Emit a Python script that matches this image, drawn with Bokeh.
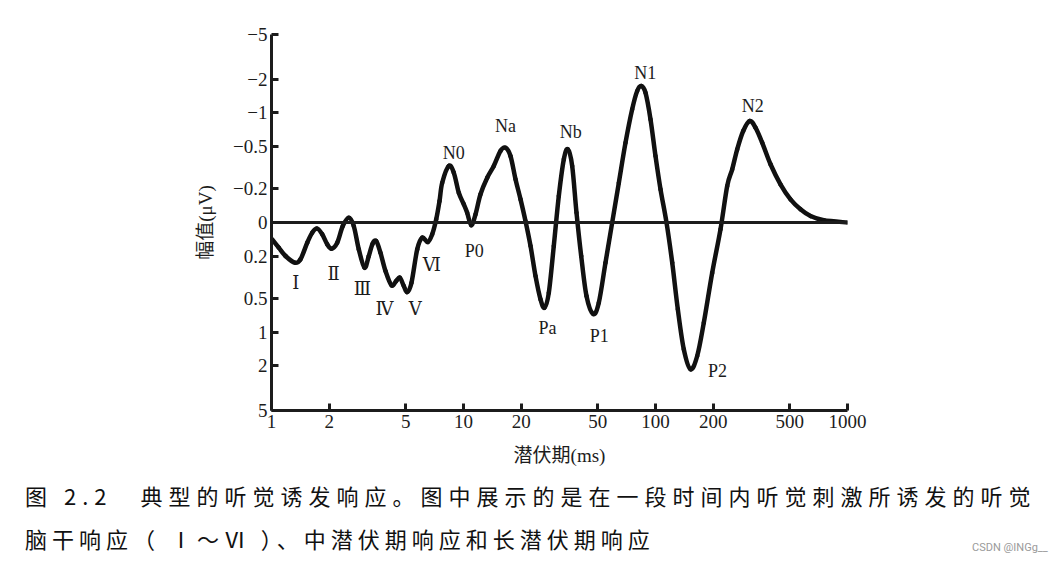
import numpy as np
from bokeh.plotting import figure
from bokeh.models import Range1d, FixedTicker, Span, ColumnDataSource, Div
from bokeh.layouts import column
from bokeh.core.properties import value
from bokeh.embed import file_html
from bokeh.resources import INLINE

# ---- data ----
latency_ms = [1.008, 1.091, 1.183, 1.322, 1.416, 1.535, 1.629, 1.730, 1.837, 1.950,
              2.054, 2.199, 2.351, 2.527, 2.683, 2.849, 3.051, 3.212, 3.357, 3.510,
              3.696, 3.924, 4.217, 4.462, 4.659, 4.888, 5.092, 5.360, 5.740, 6.095,
              6.518, 6.871, 7.209, 7.499, 7.746, 8.384, 8.903, 9.452, 10.04, 10.45,
              10.97, 11.55, 12.26, 13.29, 14.38, 15.58, 16.55, 17.57, 18.66, 19.82,
              21.03, 22.34, 23.71, 25.18, 26.42, 27.82, 29.53, 31.36, 33.31, 34.93,
              36.82, 38.77, 41.02, 43.71, 47.37, 50.66, 54.90, 59.49, 64.42, 69.80,
              75.60, 80.28, 84.23, 88.69, 94.19, 100.0, 106.2, 114.1, 122.2, 130.7,
              140.4, 152.2, 164.9, 178.5, 197.4, 218.0, 236.3, 250.9, 266.4, 286.3,
              309.8, 331.8, 359.4, 397.2, 447.7, 504.9, 569.1, 641.7, 752.6, 1000.0]

amplitude_uv = [0.099, 0.148, 0.197, 0.244, 0.220, 0.119, 0.060, 0.036, 0.069, 0.128,
                0.154, 0.119, 0.021, -0.028, 0.021, 0.158, 0.280, 0.197, 0.126, 0.109,
                0.179, 0.304, 0.406, 0.375, 0.351, 0.411, 0.454, 0.387, 0.158, 0.089,
                0.115, 0.069, -0.019, -0.126, -0.241, -0.361, -0.313, -0.175, -0.107, -0.058,
                0.016, -0.048, -0.166, -0.277, -0.361, -0.468, -0.491, -0.432, -0.266, -0.136,
                -0.009, 0.138, 0.339, 0.512, 0.635, 0.459, 0.138, -0.156, -0.409, -0.480,
                -0.361, -0.058, 0.197, 0.482, 0.728, 0.562, 0.244, 0.0, -0.241, -0.556,
                -1.097, -1.652, -1.803, -1.600, -0.900, -0.432, -0.195, 0.0, 0.244, 0.659,
                1.509, 2.253, 1.712, 0.856, 0.316, 0.040, -0.218, -0.337, -0.480, -0.728,
                -0.875, -0.776, -0.556, -0.373, -0.230, -0.136, -0.078, -0.038, -0.013, 0.0]

x_tick_values = [1, 2, 5, 10, 20, 50, 100, 200, 500, 1000]
x_tick_labels = ["1", "2", "5", "10", "20", "50", "100", "200", "500", "1000"]
y_tick_values = [-5, -2, -1, -0.5, -0.2, 0, 0.2, 0.5, 1, 2, 5]
y_tick_labels = ["\u22125", "\u22122", "\u22121", "\u22120.5", "\u22120.2", "0",
                 "0.2", "0.5", "1", "2", "5"]

peak_names = ["Ⅰ", "Ⅱ", "Ⅲ", "Ⅳ", "Ⅴ", "Ⅵ", "N0", "P0", "Na", "Pa", "Nb", "P1", "N1", "P2", "N2"]
peak_index = [3, 10, 16, 22, 26, 30, 35, 40, 46, 54, 59, 64, 72, 81, 90]

x_title = "潜伏期(ms)"
y_title = "幅值(μV)"
caption_line1 = "图 2.2\u3000典型的听觉诱发响应。图中展示的是在一段时间内听觉刺激所诱发的听觉"
caption_line2 = "脑干响应（ Ⅰ～Ⅵ ）、中潜伏期响应和长潜伏期响应"
watermark = "CSDN @INGg__"

# ---- the chart's non-linear amplitude scale (symmetric, negative up) ----
scale_mag = [0, 0.2, 0.5, 1, 2, 5]
scale_pos = [0, 34, 76, 110, 143, 188]


def to_display(v):
    v = np.asarray(v, dtype=float)
    return np.sign(v) * np.interp(np.abs(v), scale_mag, scale_pos)


# label offsets (screen pixels) - styling only
lab_dx = [1, 2, -2, -7, 8, 4, 5, 3, 0, 3, 3, 6, 4, 27, 3]
lab_dy = [20, 25, 21, 24, 17, 23, -13, 26, -22, 20, -17, 22, -13, 2, -15]

ink = "#1c1c1c"
serif = "'Liberation Serif', 'DejaVu Serif', 'Noto Sans CJK SC'"

p = figure(width=1064, height=470, x_axis_type="log",
           x_range=Range1d(1, 1000), y_range=Range1d(188, -188),
           output_backend="svg", toolbar_location=None,
           min_border_left=271, min_border_right=217,
           min_border_top=34, min_border_bottom=60)
p.outline_line_color = None
p.grid.visible = False
p.background_fill_color = "white"
p.border_fill_color = "white"

p.add_layout(Span(location=0, dimension="width", line_color=ink, line_width=3))

# smooth curve drawn through the read points (Catmull-Rom as cubic Beziers,
# computed in log-x / display-y space, where the axes are affine)
lx = np.log10(np.asarray(latency_ms, dtype=float))
yd = to_display(amplitude_uv)
n = len(lx)
i = np.arange(n - 1)
im1 = np.clip(i - 1, 0, n - 1)
ip2 = np.clip(i + 2, 0, n - 1)
c1x = lx[i] + (lx[i + 1] - lx[im1]) / 6.0
c1y = yd[i] + (yd[i + 1] - yd[im1]) / 6.0
c2x = lx[i + 1] - (lx[ip2] - lx[i]) / 6.0
c2y = yd[i + 1] - (yd[ip2] - yd[i]) / 6.0
bz = ColumnDataSource(dict(
    x0=10 ** lx[i], y0=yd[i], x1=10 ** lx[i + 1], y1=yd[i + 1],
    cx0=10 ** c1x, cy0=c1y, cx1=10 ** c2x, cy1=c2y))
p.bezier(x0="x0", y0="y0", x1="x1", y1="y1", cx0="cx0", cy0="cy0",
         cx1="cx1", cy1="cy1", source=bz, line_color="#111111",
         line_width=4.5, line_cap="round")

lab_src = ColumnDataSource(dict(
    x=[latency_ms[k] for k in peak_index],
    y=[yd[k] for k in peak_index],
    t=peak_names, dx=lab_dx, dy=lab_dy))
p.text("x", "y", text="t", source=lab_src, x_offset="dx", y_offset="dy",
       text_align="center", text_baseline="middle",
       text_font=value(serif), text_font_size="18px", text_color=ink)

# x axis
xa = p.xaxis[0]
xa.ticker = FixedTicker(ticks=x_tick_values, minor_ticks=[])
xa.major_label_overrides = {v: l for v, l in zip(x_tick_values, x_tick_labels)}
# y axis
ya = p.yaxis[0]
y_pos = [float(v) for v in to_display(y_tick_values)]
ya.ticker = FixedTicker(ticks=y_pos, minor_ticks=[])
ya.major_label_overrides = {v: l for v, l in zip(y_pos, y_tick_labels)}

for ax in (xa, ya):
    ax.axis_line_color = ink
    ax.axis_line_width = 3
    ax.major_tick_line_color = ink
    ax.major_tick_line_width = 3
    ax.major_tick_in = 7
    ax.major_tick_out = 0
    ax.minor_tick_line_color = None
    ax.major_label_text_font = serif
    ax.major_label_text_font_size = "19px"
    ax.major_label_text_color = ink
    ax.axis_label_text_font = serif
    ax.axis_label_text_font_size = "19px"
    ax.axis_label_text_font_style = "normal"
    ax.axis_label_text_color = ink
    ax.major_label_standoff = 4

xa.axis_label = x_title
xa.axis_label_standoff = 14
ya.axis_label = y_title
ya.axis_label_standoff = 14

caption_html = (
    '<div style="position:relative;width:1064px;height:94px;">'
    f'<div style="padding-top:4px;padding-left:25px;">{caption_line1}<br>'
    f'<span style="letter-spacing:5px;">{caption_line2}</span></div>'
    '<span style="position:absolute;left:972px;top:71px;font-size:11px;line-height:14px;'
    'letter-spacing:0;color:#9a9a9a;font-family:Roboto, sans-serif;white-space:nowrap;">'
    f'{watermark}</span></div>'
)
caption = Div(text=caption_html, width=1064, height=94, margin=(0, 0, 0, 0),
              styles={"font-family": "'Noto Sans CJK SC'", "font-size": "22px",
                      "letter-spacing": "6px", "line-height": "43px",
                      "color": "#111111"})

layout = column(p, caption, spacing=0)
open("out.html", "w").write(file_html(layout, INLINE))
